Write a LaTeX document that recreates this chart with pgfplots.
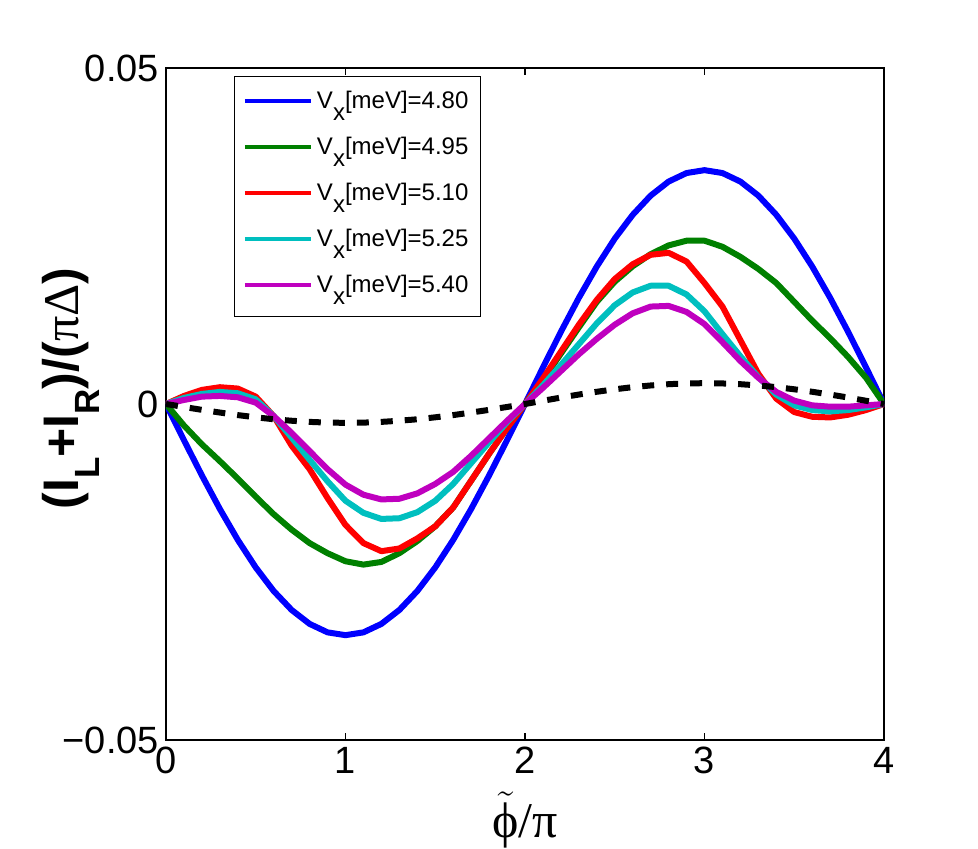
\documentclass[border=0pt]{standalone}
\usepackage{fontspec}
\setmainfont{Liberation Sans}
\newfontfamily\greekserif{Liberation Serif}
\usepackage{pgfplots}
\usepackage{pgfplotstable}
\pgfplotsset{compat=1.18}

\definecolor{mblue}{rgb}{0,0,1}
\definecolor{mgreen}{rgb}{0,0.5,0}
\definecolor{mred}{rgb}{1,0,0}
\definecolor{mcyan}{rgb}{0,0.75,0.75}
\definecolor{mmagenta}{rgb}{0.75,0,0.75}

% lowered subscripts, legend and axis label
\newcommand{\lsub}[1]{\raisebox{-6pt}{#1}}
\newcommand{\ysub}[1]{\raisebox{-10.5pt}{\fontsize{17.5}{18}\selectfont #1}}

% total current (I_L+I_R)/(pi Delta) versus phase, one column per V_x
\pgfplotstableread{
x    b480     g495    r510    c525    m540    d
0.0  0        0       0       0       0       0
0.1 -0.00538 -0.0032  0.0012  0.0009  0.0006 -0.00044
0.2 -0.01063 -0.0060  0.0021  0.0015  0.0011 -0.00087
0.3 -0.01562 -0.0085  0.0025  0.0018  0.0012 -0.00127
0.4 -0.02022 -0.0111  0.0023  0.0016  0.0010 -0.00165
0.5 -0.02432 -0.0138  0.0011  0.0007  0.0002 -0.00198
0.6 -0.02783 -0.0164 -0.0018 -0.0018 -0.0018 -0.00227
0.7 -0.03065 -0.0187 -0.0062 -0.0050 -0.0043 -0.00249
0.8 -0.03272 -0.0207 -0.0097 -0.0083 -0.0070 -0.00266
0.9 -0.03398 -0.0222 -0.0140 -0.0115 -0.0097 -0.00277
1.0 -0.03440 -0.0234 -0.0180 -0.0144 -0.0120 -0.00280
1.1 -0.03398 -0.0239 -0.0207 -0.0162 -0.0135 -0.00277
1.2 -0.03272 -0.0235 -0.0219 -0.0171 -0.0142 -0.00266
1.3 -0.03065 -0.0222 -0.0215 -0.0170 -0.0141 -0.00249
1.4 -0.02783 -0.0204 -0.0200 -0.0161 -0.0133 -0.00227
1.5 -0.02432 -0.0182 -0.0182 -0.0144 -0.0119 -0.00198
1.6 -0.02022 -0.0154 -0.0154 -0.0119 -0.0101 -0.00165
1.7 -0.01562 -0.0114 -0.0114 -0.0088 -0.0077 -0.00127
1.8 -0.01063 -0.0074 -0.0074 -0.0057 -0.0051 -0.00087
1.9 -0.00538 -0.0036 -0.0036 -0.0027 -0.0025 -0.00044
2.0  0        0       0       0       0       0
2.1  0.00544  0.0036  0.0038  0.0028  0.0024  0.00048
2.2  0.01075  0.0075  0.0078  0.0058  0.0049  0.00096
2.3  0.01580  0.0114  0.0118  0.0089  0.0074  0.00141
2.4  0.02046  0.0152  0.0155  0.0120  0.0097  0.00182
2.5  0.02461  0.0182  0.0186  0.0147  0.0118  0.00219
2.6  0.02815  0.0205  0.0208  0.0166  0.0135  0.00251
2.7  0.03101  0.0223  0.0222  0.0176  0.0145  0.00276
2.8  0.03310  0.0236  0.0225  0.0176  0.0146  0.00295
2.9  0.03437  0.0243  0.0212  0.0163  0.0137  0.00306
3.0  0.03480  0.0243  0.0180  0.0138  0.0119  0.00310
3.1  0.03437  0.0234  0.0145  0.0104  0.0092  0.00306
3.2  0.03310  0.0219  0.0095  0.0071  0.0064  0.00295
3.3  0.03101  0.0201  0.0045  0.0040  0.0039  0.00276
3.4  0.02815  0.0180  0.0008  0.0014  0.0018  0.00251
3.5  0.02461  0.0152 -0.0012 -0.0002  0.0005  0.00219
3.6  0.02046  0.0124 -0.0019 -0.0009 -0.0002  0.00182
3.7  0.01580  0.0098 -0.0020 -0.0011 -0.0004  0.00141
3.8  0.01075  0.0070 -0.0016 -0.0009 -0.0004  0.00096
3.9  0.00544  0.0039 -0.0009 -0.0005 -0.0002  0.00048
4.0  0        0       0       0       0       0
}\currents

\begin{document}
\begin{tikzpicture}
\useasboundingbox (-83pt,-54pt) rectangle (406pt,370pt);
\begin{axis}[
  at={(0pt,0pt)}, anchor=south west,
  width=359pt, height=336pt, scale only axis,
  xmin=0, xmax=4, ymin=-0.05, ymax=0.05,
  xtick={0,1,2,3,4}, xticklabels={0,1,2,3,4},
  ytick={-0.05,0,0.05}, yticklabels={−0.05,0,0.05},
  scaled y ticks=false,
  tick align=inside, tick pos=both,
  major tick length=3.5pt,
  axis line style={line width=0.6pt},
  every tick/.style={black, line width=0.6pt},
  ticklabel style={font=\fontsize{19}{22}\selectfont},
  xlabel={\fontsize{25}{28}\selectfont$\tilde{\hbox{\greekserif ϕ}}$\greekserif/π},
  xlabel style={at={(axis description cs:0.5,-0.119)}, anchor=center},
  ylabel={\fontsize{25}{28}\selectfont\bfseries (I\ysub{L}+I\ysub{R})/({\greekserif\mdseries πΔ})},
  ylabel style={at={(axis description cs:-0.132,0.523)}, anchor=center},
  legend style={at={(rel axis cs:0.0947,0.988)}, anchor=north west,
    draw=black, line width=0.6pt, fill=white,
    inner xsep=4pt, inner ysep=4pt, row sep=3pt, column sep=0pt,
    font=\fontsize{12}{14}\selectfont,
    nodes={inner sep=2pt, text height=10pt, text depth=6pt}},
  legend cell align=left,
  legend image code/.code={\draw[#1, line width=2.2pt] (0pt,1.8pt) -- (33pt,1.8pt);},
  every axis plot/.append style={line width=3pt, line join=round},
]
\addplot[mblue] table[x=x, y=b480]{\currents};
\addlegendentry{V\lsub{x}[meV]=4.80}
\addplot[mgreen] table[x=x, y=g495]{\currents};
\addlegendentry{V\lsub{x}[meV]=4.95}
\addplot[mred] table[x=x, y=r510]{\currents};
\addlegendentry{V\lsub{x}[meV]=5.10}
\addplot[mcyan] table[x=x, y=c525]{\currents};
\addlegendentry{V\lsub{x}[meV]=5.25}
\addplot[mmagenta] table[x=x, y=m540]{\currents};
\addlegendentry{V\lsub{x}[meV]=5.40}
\addplot[black, dash pattern=on 6pt off 6pt, forget plot] table[x=x, y=d]{\currents};
\end{axis}
\end{tikzpicture}
\end{document}
